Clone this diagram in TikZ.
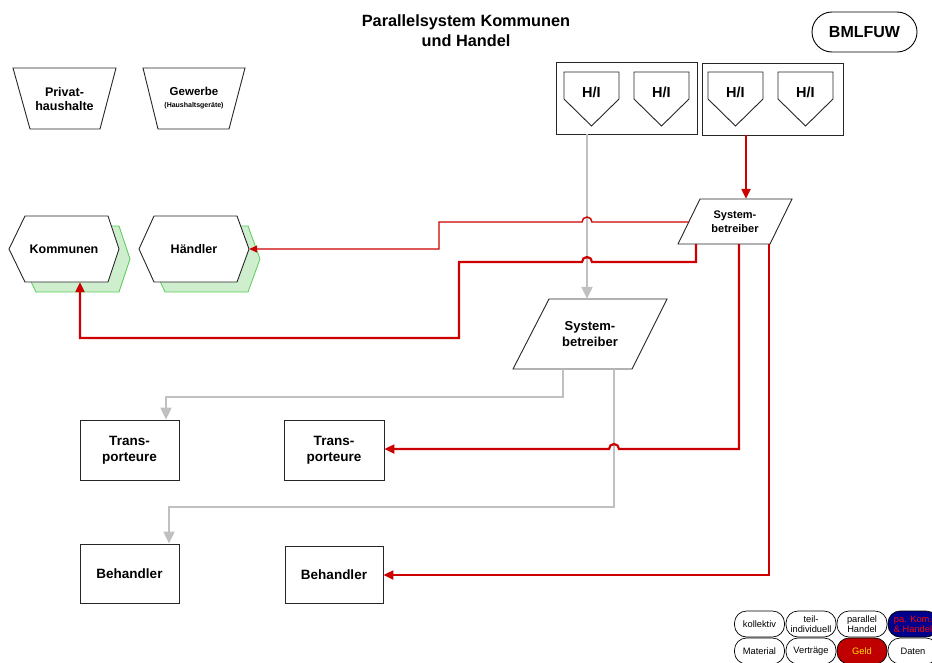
\documentclass[tikz,border=0pt]{standalone}
\usepackage{fontspec}
\setmainfont{Liberation Sans}
\usetikzlibrary{arrows.meta,calc}
\definecolor{redline}{RGB}{204,0,0}
\definecolor{grayline}{RGB}{192,192,192}
\definecolor{shadowgreen}{RGB}{206,238,206}
\definecolor{shadowedge}{RGB}{90,205,90}
\definecolor{navyfill}{RGB}{0,0,140}
\definecolor{geldfill}{RGB}{192,0,0}
\definecolor{geldtext}{RGB}{255,222,0}
\newcommand\myfs[2]{\fontsize{#1}{#2}\selectfont}
\begin{document}
\begin{tikzpicture}[x=1pt,y=-1pt,
  outline/.style={draw=black!85, line width=0.9pt, fill=white},
  area/.style={inner sep=0pt, align=center, font=\bfseries\myfs{13.5}{16}},
  boxnode/.style={area, draw=black!85, line width=0.9pt, fill=white},
  shadow/.style={draw=shadowedge, line width=0.8pt, fill=shadowgreen},
  redthick/.style={draw=redline, line width=2.2pt},
  redthin/.style={draw=redline, line width=1.4pt},
  graythick/.style={draw=grayline, line width=2.2pt},
  redtip/.style={-{Triangle[length=10pt,width=9pt]}},
  redtipsmall/.style={-{Triangle[length=8pt,width=7pt]}},
  graytip/.style={-{Triangle[length=12pt,width=11pt]}},
  pill/.style={draw=black, line width=0.7pt, fill=white, rounded corners=12,
    minimum width=50, minimum height=26, inner sep=0pt, align=center,
    font=\myfs{9.3}{10}}]
\useasboundingbox (0,0) rectangle (932,662);
\clip (0,0) rectangle (932,662);

% heading and badge
\node[font=\bfseries\myfs{16.3}{20}, align=center] (title) at (466,31)
  {Parallelsystem Kommunen\\und Handel};
\node[draw=black, line width=0.9pt, rounded corners=20, minimum width=105,
  minimum height=40, inner sep=0pt, font=\bfseries\myfs{16}{18}] (bmlfuw)
  at (864.5,32) {BMLFUW};

% sources
\draw[outline] (13,68) -- (116,68) -- (100,129) -- (30,129) -- cycle;
\node[area, font=\bfseries\myfs{12.5}{14.5}] (priv) at (64.5,99)
  {Privat-\\haushalte};
\draw[outline] (143,68) -- (245,68) -- (229,129) -- (158,129) -- cycle;
\node[area, font=\bfseries\myfs{11.5}{13}] (gew) at (194,98.5)
  {Gewerbe\\[-1pt]{\myfs{7}{8}(Haushaltsgeräte)}};

% collectors (hexagons with shadow)
\draw[shadow] (20,259) -- (36,226) -- (119,226) -- (130,259) -- (119,292) -- (36,292) -- cycle;
\draw[outline] (9,249) -- (25,216) -- (108,216) -- (119,249) -- (108,282) -- (25,282) -- cycle;
\node[area, font=\bfseries\myfs{12.5}{14}, minimum width=110, minimum height=66]
  (komm) at (64,249) {Kommunen};
\draw[shadow] (150,259) -- (165,226) -- (248,226) -- (260,259) -- (248,292) -- (165,292) -- cycle;
\draw[outline] (139,249) -- (154,216) -- (237,216) -- (249,249) -- (237,282) -- (154,282) -- cycle;
\node[area, font=\bfseries\myfs{12.5}{14}, minimum width=110, minimum height=66]
  (haend) at (194,249) {Händler};

% producers / importers
\node[boxnode, minimum width=141, minimum height=72] (hgrp1) at (626.5,98) {};
\node[boxnode, minimum width=141, minimum height=72] (hgrp2) at (772.5,99) {};
\foreach \x/\n in {564/hi1,634/hi2,708/hi3,778/hi4}{
  \draw[outline] (\x,72) -- ++(55,0) -- ++(0,27) -- ++(-27.5,27) -- ++(-27.5,-27) -- cycle;
  \node[area, font=\bfseries\myfs{14.5}{16}] (\n) at (\x+27.5,92) {H/I};
}

% system operators
\draw[outline] (700,199) -- (792,199) -- (770,244) -- (678,244) -- cycle;
\node[area, font=\bfseries\myfs{11}{13.5}, minimum width=114, minimum height=45]
  (sb1) at (735,221.5) {System-\\betreiber};
\draw[outline] (549,299) -- (667,299) -- (632,369) -- (513,369) -- cycle;
\node[area, font=\bfseries\myfs{13}{16}, minimum width=154, minimum height=70]
  (sb2) at (590,334) {System-\\betreiber};
\coordinate (sb1left) at (689,222);

% transporters and processors
\node[boxnode, minimum width=99, minimum height=60] (tr1) at (129.5,450) {Trans-\\porteure};
\node[boxnode, minimum width=100, minimum height=60] (tr2) at (334,450) {Trans-\\porteure};
\node[boxnode, minimum width=99, minimum height=59] (bh1) at (129.5,573.5) {Behandler};
\node[boxnode, minimum width=98, minimum height=57] (bh2) at (334,574.5) {Behandler};

% grey flows
\draw[graythick, graytip] (587,0 |- hgrp1.south) -- (587,0 |- sb2.north);
\draw[graythick, graytip] (563,0 |- sb2.south) -- (563,397) -- (166,397) -- (166,0 |- tr1.north);
\draw[graythick, graytip] (614,0 |- sb2.south) -- (614,507) -- (169,507) -- (169,0 |- bh1.north);

% red flows
\draw[redthick, redtip] (746,0 |- hgrp2.south) -- (746,0 |- sb1.north);
\draw[redthin, redtipsmall] (sb1left) -- (592,222) arc (0:-180:5) -- (439,222) -- (439,249) -- (haend.east);
\draw[redthick, redtip] (696,0 |- sb1.south) -- (696,262) -- (592,262) arc (0:-180:5)
  -- (459,262) -- (459,338) -- (80,338) -- (80,0 |- komm.south);
\draw[redthick, redtip] (739,0 |- sb1.south) -- (739,449) -- (619,449) arc (0:-180:5)
  -- (tr2.east |- 0,449);
\draw[redthick, redtip] (769,0 |- sb1.south) -- (769,575) -- (bh2.east |- 0,575);

% legend
\node[pill] (lkoll) at (759.5,624) {kollektiv};
\node[pill] (lteil) at (811,624) {teil-\\individuell};
\node[pill] (lpar) at (862,624) {parallel\\Handel};
\node[pill, fill=navyfill, text=red] (lpak) at (913,624) {pa. Kom.\\\& Handel};
\node[pill] (lmat) at (759.5,651) {Material};
\node[pill] (lvert) at (811,651) {Verträge};
\node[pill, fill=geldfill, text=geldtext] (lgeld) at (862,651) {Geld};
\node[pill] (ldat) at (913,651) {Daten};
\end{tikzpicture}
\end{document}
